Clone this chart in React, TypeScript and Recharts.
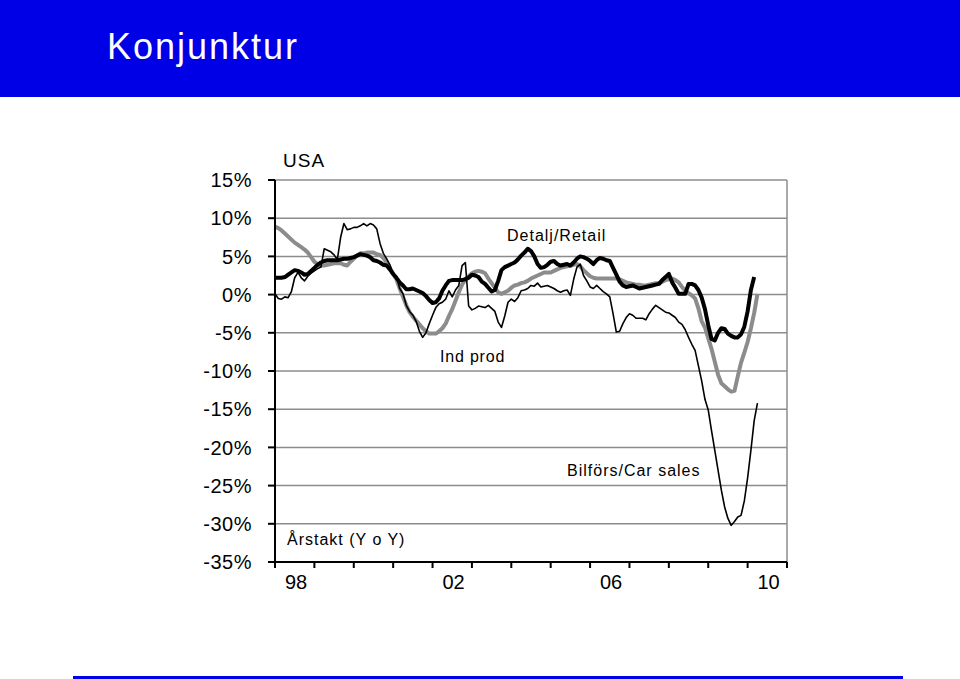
import React from 'react';
import { LineChart, Line, XAxis, YAxis, CartesianGrid, ReferenceLine } from 'recharts';

// månadsdata jan 1998 - apr 2010, årstakt i %
const indProd = [
  8.9, 8.7, 8.4, 8.0, 7.6, 7.2, 6.8, 6.5, 6.2, 5.9, 5.5, 4.9,
  4.3, 4.0, 3.8, 3.8, 3.9, 4.0, 4.1, 4.1, 4.1, 3.9, 3.8, 4.3,
  4.7, 5.1, 5.4, 5.4, 5.5, 5.5, 5.5, 5.3, 5.2, 4.8, 4.2, 3.5,
  2.7, 2.0, 0.8, -0.3, -1.4, -2.3, -2.9, -3.4, -3.9, -4.4, -4.8, -5.1,
  -5.1, -5.1, -4.8, -4.4, -3.8, -2.8, -1.9, -0.8, 0.3, 1.3, 2.0, 2.4,
  2.8, 3.0, 3.1, 3.0, 2.8, 2.1, 1.5, 0.9, 0.3, 0.1, 0.3, 0.5,
  0.9, 1.2, 1.3, 1.5, 1.6, 1.8, 2.1, 2.3, 2.5, 2.7, 2.9, 2.9,
  2.9, 3.1, 3.3, 3.5, 3.6, 3.7, 3.8, 3.9, 4.0, 3.7, 3.2, 2.8,
  2.4, 2.2, 2.1, 2.1, 2.1, 2.1, 2.1, 2.1, 2.1, 2.0, 1.8, 1.6,
  1.5, 1.4, 1.3, 1.3, 1.2, 1.2, 1.3, 1.4, 1.5, 1.5, 1.7, 1.9,
  2.0, 2.1, 1.9, 1.6, 1.0, 0.5, 0.2, -0.1, -0.5, -1.8, -3.5, -4.3,
  -5.7, -7.1, -8.8, -10.5, -11.6, -12.0, -12.4, -12.7, -12.6, -10.7, -8.9, -7.6,
  -6.2, -4.4, -2.4, 0.1,
];

const retail = [
  2.2, 2.2, 2.2, 2.3, 2.6, 2.9, 3.2, 3.1, 2.9, 2.6, 2.7, 3.1,
  3.5, 3.9, 4.2, 4.4, 4.5, 4.5, 4.5, 4.5, 4.6, 4.7, 4.7, 4.8,
  4.9, 5.1, 5.3, 5.2, 5.1, 4.9, 4.5, 4.4, 4.2, 3.9, 3.8, 3.3,
  2.7, 2.2, 1.6, 1.2, 0.7, 0.7, 0.8, 0.6, 0.4, 0.2, -0.2, -0.7,
  -1.1, -1.0, -0.5, 0.5, 1.2, 1.8, 1.9, 1.9, 1.9, 1.9, 2.0, 2.2,
  2.6, 2.5, 2.3, 1.7, 1.4, 0.9, 0.4, 0.6, 1.8, 3.2, 3.6, 3.8,
  4.0, 4.2, 4.6, 5.1, 5.5, 6.0, 5.7, 5.0, 4.0, 3.5, 3.6, 3.9,
  4.3, 4.4, 4.0, 3.8, 3.9, 4.0, 3.8, 4.2, 4.7, 5.0, 4.9, 4.7,
  4.4, 4.0, 4.5, 4.8, 4.7, 4.5, 4.4, 3.5, 2.6, 1.7, 1.2, 1.0,
  1.1, 1.2, 1.0, 0.8, 0.9, 1.0, 1.1, 1.2, 1.3, 1.4, 1.9, 2.3,
  2.7, 1.6, 0.9, 0.1, 0.1, 0.1, 1.4, 1.4, 1.2, 0.6, -0.4, -1.9,
  -4.0, -5.8, -6.0, -5.0, -4.4, -4.5, -5.1, -5.4, -5.6, -5.6, -5.2, -4.2,
  -2.2, 0.6, 2.3, null,
];

const carSales = [
  0.1, -0.5, -0.6, -0.3, -0.4, 0.4, 2.2, 2.9, 2.2, 1.8, 2.4, 2.8,
  3.1, 3.4, 3.6, 6.0, 5.8, 5.6, 5.2, 4.6, 7.5, 9.3, 8.5, 8.6,
  8.8, 8.8, 9.0, 9.3, 9.0, 9.3, 9.1, 8.6, 6.7, 5.4, 4.7, 3.9,
  2.7, 2.4, 0.8, 0.1, -1.4, -2.2, -2.7, -3.5, -4.8, -5.6, -5.0, -3.8,
  -2.7, -1.7, -1.2, -1.0, -0.6, 0.5, -0.3, 0.6, 1.2, 3.8, 4.2, -1.5,
  -2.0, -1.8, -1.5, -1.6, -1.7, -1.4, -1.8, -2.2, -3.6, -4.3, -2.8, -1.0,
  -0.6, -0.9, -0.4, 0.5, 0.6, 0.8, 1.2, 1.1, 1.5, 1.0, 1.1, 1.2,
  1.0, 0.8, 0.5, 0.3, 0.5, 0.6, -0.1, 2.0, 3.6, 4.0, 2.5, 1.8,
  1.0, 0.8, 1.2, 0.8, 0.4, 0.1, -0.3, -2.5, -4.9, -4.8, -3.8, -3.0,
  -2.5, -2.7, -3.1, -3.1, -3.1, -3.3, -2.5, -1.9, -1.4, -1.7, -2.0, -2.3,
  -2.4, -2.7, -3.0, -3.6, -3.9, -4.6, -5.6, -6.5, -7.3, -9.3, -11.3, -13.7,
  -15.1, -17.8, -20.4, -23.0, -25.6, -27.8, -29.3, -30.2, -29.7, -29.1, -28.9, -27.0,
  -24.0, -20.4, -16.5, -14.2,
];

const yTicks = [-35, -30, -25, -20, -15, -10, -5, 0, 5, 10, 15];
const monthTicks = [0, 12, 24, 36, 48, 60, 72, 84, 96, 108, 120, 132, 144, 156];
const yearLabels: Record<number, string> = { 0: '98', 48: '02', 96: '06', 144: '10' };

const data = indProd.map((v, i) => ({
  m: i,
  indProd: v,
  retail: retail[i],
  carSales: carSales[i],
}));

const FONT = '"Liberation Sans", Arial, sans-serif';
const BLUE = '#0000e6';

function YearTick(props: any) {
  const { x, y, payload } = props;
  const label = yearLabels[payload.value];
  if (!label) return null;
  // etiketten står mitt i årsintervallet
  return (
    <text x={x + 21} y={y} dy="0.71em" textAnchor="middle" fill="#000" fontSize={20} fontFamily={FONT}>
      {label}
    </text>
  );
}

export default function App() {
  return (
    <div
      style={{
        position: 'fixed',
        top: 0,
        left: 0,
        width: 960,
        height: 679,
        background: '#fff',
        fontFamily: FONT,
        overflow: 'hidden',
      }}
    >
      <div style={{ position: 'absolute', top: 0, left: 0, width: 960, height: 97, background: BLUE }} />
      <div
        style={{
          position: 'absolute',
          left: 107,
          top: 27,
          fontSize: 36,
          lineHeight: '40px',
          letterSpacing: 2,
          color: '#fff',
        }}
      >
        Konjunktur
      </div>
      <div style={{ position: 'absolute', top: 676, left: 73, width: 830, height: 3, background: BLUE }} />

      <div style={{ position: 'absolute', top: 0, left: 0 }}>
        <LineChart width={960} height={679} data={data} margin={{ top: 180, right: 173, left: 0, bottom: 87 }}>
          <CartesianGrid vertical={false} stroke="#8c8c8c" strokeWidth={1.5} />
          <XAxis
            dataKey="m"
            type="number"
            domain={[0, 156]}
            ticks={monthTicks}
            height={30}
            tickSize={6}
            tickMargin={7}
            interval={0}
            tick={<YearTick />}
            axisLine={{ stroke: '#000', strokeWidth: 2 }}
            tickLine={{ stroke: '#000', strokeWidth: 2 }}
          />
          <YAxis
            type="number"
            domain={[-35, 15]}
            ticks={yTicks}
            interval={0}
            width={275}
            tickSize={7}
            tickMargin={16}
            tickFormatter={(v: number) => `${v}%`}
            tick={{ fill: '#000', fontSize: 20, fontFamily: FONT, letterSpacing: 0.5 }}
            axisLine={{ stroke: '#000', strokeWidth: 2 }}
            tickLine={{ stroke: '#000', strokeWidth: 2 }}
          />
          <ReferenceLine x={156} stroke="#8c8c8c" strokeWidth={1.5} />
          <Line
            type="linear"
            dataKey="indProd"
            stroke="#8c8c8c"
            strokeWidth={4}
            dot={false}
            strokeLinejoin="round"
            isAnimationActive={false}
          />
          <Line
            type="linear"
            dataKey="retail"
            stroke="#000"
            strokeWidth={4}
            dot={false}
            strokeLinejoin="round"
            isAnimationActive={false}
          />
          <Line
            type="linear"
            dataKey="carSales"
            stroke="#000"
            strokeWidth={1.6}
            dot={false}
            strokeLinejoin="round"
            isAnimationActive={false}
          />
        </LineChart>
      </div>

      <svg
        width={960}
        height={679}
        style={{ position: 'absolute', top: 0, left: 0, pointerEvents: 'none' }}
        fontFamily={FONT}
        fill="#000"
      >
        <text x={283} y={167} fontSize={19} letterSpacing={1}>USA</text>
        <text x={507} y={241} fontSize={16} letterSpacing={1}>Detalj/Retail</text>
        <text x={440} y={362} fontSize={16} letterSpacing={0.8}>Ind prod</text>
        <text x={567} y={476} fontSize={16} letterSpacing={1}>Bilförs/Car sales</text>
        <text x={287} y={545} fontSize={16} letterSpacing={1}>Årstakt (Y o Y)</text>
      </svg>
    </div>
  );
}
